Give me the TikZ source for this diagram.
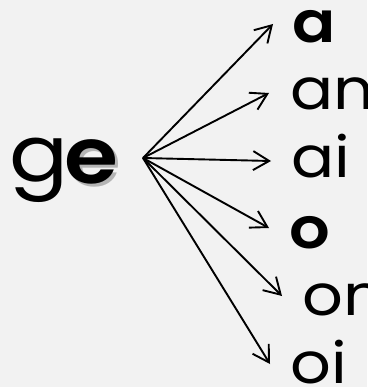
\documentclass[tikz,border=0pt]{standalone}
\usepackage{fontspec}
\setmainfont{Poppins}[FakeStretch=1.12,BoldFont={Poppins SemiBold}]
\usetikzlibrary{arrows.meta}
\definecolor{paper}{HTML}{F2F2F2}
\begin{document}
\begin{tikzpicture}[x=1pt,y=-1pt,
    syl/.style={anchor=base west,inner sep=0pt,font=\fontsize{57}{60}\selectfont},
    big/.style={anchor=base west,inner sep=0pt,font=\fontsize{78}{80}\selectfont},
    fan/.style={line width=1.9pt,-{Straight Barb[length=16pt,width=19pt,line width=1.9pt]}}]
    \fill[paper] (0,0) rectangle (367,387);
    \useasboundingbox (0,0) rectangle (367,387);
    \clip (0,0) rectangle (367,387);
    % the stem
    \node[big] (g) at (9,181) {g};
    \node[big,text=black!45,opacity=.6] (eshade) at (67,186) {\bfseries e};
    \node[big] (e) at (64,183) {\bfseries e};
    \coordinate (hub) at (143,158);
    % endings
    \foreach[count=\k] \tx/\ty/\lx/\ly/\w in
      {273/24/292/43/\bfseries a,269/93/290/110/an,271/161/291/178/ai,
       269/228/289/248/\bfseries o,282/296/302/315/on,270/364/290/383/oi}{
        \coordinate (t\k) at (\tx,\ty);
        \node[syl] (s\k) at (\lx,\ly) {\w};
        \draw[fan] (hub) -- (t\k);
      }
  \end{tikzpicture}
\end{document}
